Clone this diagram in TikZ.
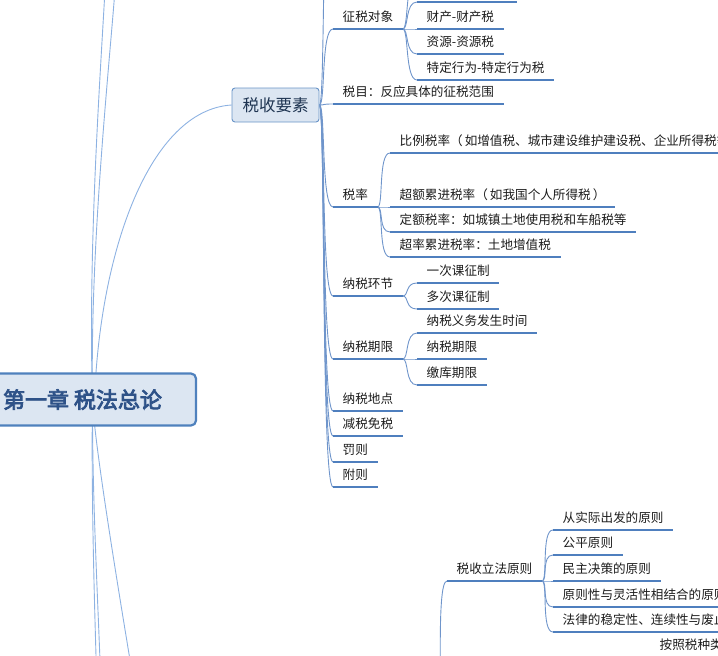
\documentclass[tikz,border=0pt]{standalone}
\usepackage{fontspec}
\setmainfont{Noto Sans CJK SC}
\newfontfamily\cjkbold{Noto Sans CJK SC}[FakeBold=3.5]
\usetikzlibrary{backgrounds}
\definecolor{ulc}{HTML}{4F7FBE}
\definecolor{cvc}{HTML}{6F95CB}
\definecolor{rlc}{HTML}{8DB2E2}
\definecolor{boxfill}{HTML}{DCE6F2}
\definecolor{rootborder}{HTML}{4F81BD}
\definecolor{roottext}{HTML}{2E5288}
\definecolor{txt}{HTML}{1C1C1C}
\definecolor{sktext}{HTML}{1F3552}
\tikzset{
  leaf/.style={anchor=south west, inner xsep=9.5pt, inner ysep=4.5pt,
    text height=10pt, text depth=2.5pt, font=\fontsize{12.6}{14}\selectfont, text=txt},
  ulline/.style={draw=ulc, line width=1.8pt},
  cv/.style={draw=cvc, line width=0.9pt},
  rl/.style={draw=rlc, line width=0.9pt},
  rootbox/.style={draw=rootborder, line width=2.2pt, fill=boxfill, rounded corners=5pt,
    minimum width=227pt, minimum height=52pt, inner sep=0pt,
    font=\cjkbold\fontsize{22}{24}\selectfont, text=roottext},
  subbox/.style={draw=rootborder!85, line width=0.9pt, fill=boxfill, rounded corners=3pt,
    minimum width=87pt, minimum height=34pt, inner sep=0pt,
    font=\fontsize{16.5}{18}\selectfont, text=sktext}
}
\begin{document}
\begin{tikzpicture}[x=1pt,y=-1pt]
\path[use as bounding box] (0,0) rectangle (718,656);
\clip (0,0) rectangle (718,656);

% main nodes
\node[rootbox] (root) at (82.5,399.5) {第一章 税法总论};
\node[subbox] (sk) at (275.5,105) {税收要素};

% children of 税收要素
\coordinate (nsr) at (333,-150);
\node[leaf] (zs) at (333,29) {征税对象};
\node[leaf] (sm) at (333,104) {税目：反应具体的征税范围};
\node[leaf] (sl) at (333,207) {税率};
\node[leaf] (hj) at (333,296) {纳税环节};
\node[leaf] (qx) at (333,359) {纳税期限};
\node[leaf] (dd) at (333,411) {纳税地点};
\node[leaf] (jm) at (333,436) {减税免税};
\node[leaf] (fz) at (333,462) {罚则};
\node[leaf] (fuz) at (333,487) {附则};

% children of 征税对象
\coordinate (z0) at (417,-24);
\coordinate (z1) at (417,2);
\coordinate (z1e) at (517,2);
\node[leaf] (cc) at (417,29) {财产-财产税};
\node[leaf] (zy) at (417,54) {资源-资源税};
\node[leaf] (td) at (417,80) {特定行为-特定行为税};

% children of 税率
\node[leaf] (bl) at (390,153) {比例税率（\,如增值税、城市建设维护建设税、企业所得税等）};
\node[leaf] (ce) at (390,207) {超额累进税率（\,如我国个人所得税\,）};
\node[leaf] (de) at (390,232) {定额税率：如城镇土地使用税和车船税等};
\node[leaf] (cl) at (390,257) {超率累进税率：土地增值税};

% children of 纳税环节
\node[leaf] (yc) at (417,283) {一次课征制};
\node[leaf] (dc) at (417,309) {多次课征制};

% children of 纳税期限
\node[leaf] (yw) at (417,333) {纳税义务发生时间};
\node[leaf] (qx2) at (417,359) {纳税期限};
\node[leaf] (jk) at (417,385) {缴库期限};

% lower branch
\coordinate (lfp) at (438,720);
\node[leaf] (lf) at (447,581) {税收立法原则};
\node[leaf] (sj) at (553,530) {从实际出发的原则};
\node[leaf] (gp) at (553,555) {公平原则};
\node[leaf] (mz) at (553,581) {民主决策的原则};
\node[leaf] (yz) at (553,607) {原则性与灵活性相结合的原则};
\node[leaf] (fl) at (553,632) {法律的稳定性、连续性与废止性相统一的原则};
\node[leaf] (az) at (650,657) {按照税种类别};

% off-page ends of root connectors
\coordinate (u1) at (105,-10);
\coordinate (u2) at (115,-10);
\coordinate (d1) at (97,690);
\coordinate (d2) at (101,690);
\coordinate (d3) at (135,690);

\begin{scope}[on background layer]
  % root connectors
  \draw[rl] ([xshift=10pt]root.center) .. controls (88,250) and (100,80) .. (u1);
  \draw[rl] ([xshift=10pt]root.center) .. controls (90,250) and (108,80) .. (u2);
  \draw[rl] ([xshift=12pt]root.center) .. controls (100,250) and (150,110) .. (sk.west);
  \draw[rl] ([xshift=10pt]root.center) .. controls (91,500) and (95,620) .. (d1);
  \draw[rl] ([xshift=10pt]root.center) .. controls (92,500) and (99,620) .. (d2);
  \draw[rl] ([xshift=10pt]root.center) .. controls (94,440) and (115,570) .. (d3);

  % 税收要素 connectors
  \foreach \c in {nsr,zs.south west,sm.south west,sl.south west,hj.south west,qx.south west,dd.south west,jm.south west,fz.south west,fuz.south west}
    \draw[cv] (sk.east) .. controls +(6,0) and +(-12,0) .. (\c);

  % 征税对象 connectors
  \foreach \c in {z0,z1,cc.south west,zy.south west,td.south west}
    \draw[cv] (zs.south east) .. controls +(6,0) and +(-12,0) .. (\c);

  % 税率 connectors
  \foreach \c in {bl,ce,de,cl}
    \draw[cv] (sl.south east) .. controls +(6,0) and +(-12,0) .. (\c.south west);

  % 纳税环节 connectors
  \foreach \c in {yc,dc}
    \draw[cv] (hj.south east) .. controls +(6,0) and +(-12,0) .. (\c.south west);

  % 纳税期限 connectors
  \foreach \c in {yw,qx2,jk}
    \draw[cv] (qx.south east) .. controls +(6,0) and +(-12,0) .. (\c.south west);

  % lower branch connectors
  \draw[cv] (lfp) .. controls +(6,0) and +(-12,0) .. (lf.south west);
  \foreach \c in {sj,gp,mz,yz,fl}
    \draw[cv] (lf.south east) .. controls +(6,0) and +(-12,0) .. (\c.south west);
\end{scope}

% underlines
\foreach \n in {zs,sm,sl,hj,qx,dd,jm,fz,fuz,cc,zy,td,bl,ce,de,cl,yc,dc,yw,qx2,jk,lf,sj,gp,mz,yz,fl}
  \draw[ulline] (\n.south west) -- (\n.south east);
\draw[ulline] (z1) -- (z1e);
\end{tikzpicture}
\end{document}
